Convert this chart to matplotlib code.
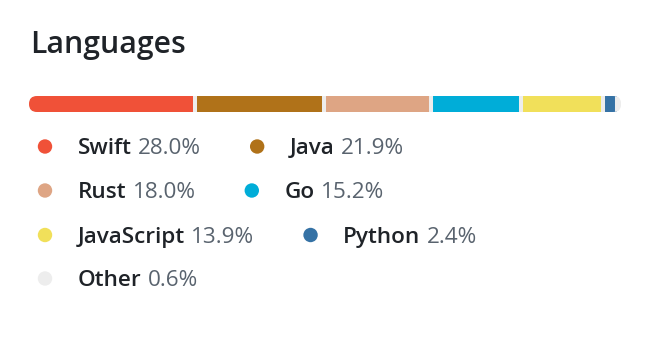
import numpy as np
import matplotlib
matplotlib.use("Agg")
import matplotlib.pyplot as plt
from matplotlib.patches import FancyBboxPatch

languages = ["Swift", "Java", "Rust", "Go", "JavaScript", "Python", "Other"]
percents = [28.0, 21.9, 18.0, 15.2, 13.9, 2.4, 0.6]
colors = ["#F05138", "#B07219", "#DEA584", "#00ADD8", "#F1E05A", "#3572A5", "#EDEDED"]
rows = [[0, 1], [2, 3], [4, 5], [6]]
title = "Languages"

W, H, DPI = 664, 342, 100
FONT = ["Open Sans", "DejaVu Sans"]
fig = plt.figure(figsize=(W / DPI, H / DPI), dpi=DPI)
fig.patch.set_facecolor("white")

def fx(px):
    return px / W

def fy(py):
    return 1 - py / H

# title
fig.text(fx(30), fy(52.5), title, fontsize=21.7, fontweight="semibold", color="#1F2328",
         family=FONT, va="baseline", ha="left")

# bar
bx0, bx1, by0, by1 = 29, 621, 96, 112
ax = fig.add_axes([fx(bx0), fy(by1), (bx1 - bx0) / W, (by1 - by0) / H])
ax.set_xlim(0, sum(percents))
ax.set_ylim(-0.5, 0.5)
ax.axis("off")
clip = FancyBboxPatch((bx0 / DPI, (H - by1) / DPI), (bx1 - bx0) / DPI, (by1 - by0) / DPI,
                      boxstyle="round,pad=0,rounding_size=0.08",
                      transform=fig.dpi_scale_trans, facecolor="#EDEDED", edgecolor="none")
fig.add_artist(clip)
lefts = np.concatenate([[0], np.cumsum(percents)[:-1]])
bars = ax.barh(0, percents, left=lefts, color=colors, height=1.0, edgecolor="none", zorder=2)
for b in bars:
    b.set_clip_path(clip)
bounds = np.cumsum(percents)[:-1]
vl = ax.vlines(bounds, -0.5, 0.5, color="#EDEDED", lw=2.9, zorder=3)
vl.set_clip_path(clip)
ax.set_zorder(2)

# legend
fig.canvas.draw()
renderer = fig.canvas.get_renderer()
row_y = [146.5, 190.5, 235, 278.5]
for r, idxs in enumerate(rows):
    dy = row_y[r]
    dot_x = 45
    for i in idxs:
        fig.patches.append(plt.Circle((dot_x / DPI, (H - dy) / DPI), 0.072,
                                      transform=fig.dpi_scale_trans,
                                      facecolor=colors[i], edgecolor="none", figure=fig))
        tx = dot_x + 32.5
        t1 = fig.text(fx(tx), fy(dy + 8.0), languages[i], fontsize=16.2, fontweight="semibold",
                      color="#1F2328", family=FONT, va="baseline", ha="left")
        e1 = t1.get_window_extent(renderer)
        t2 = fig.text(e1.x1 / W + fx(6.5), fy(dy + 8.0), f"{percents[i]:.1f}%", fontsize=16.2,
                      color="#59636E", family=FONT, va="baseline", ha="left")
        e2 = t2.get_window_extent(renderer)
        dot_x = e2.x1 + 56.3

fig.savefig("out.png", dpi=DPI, facecolor="white")
